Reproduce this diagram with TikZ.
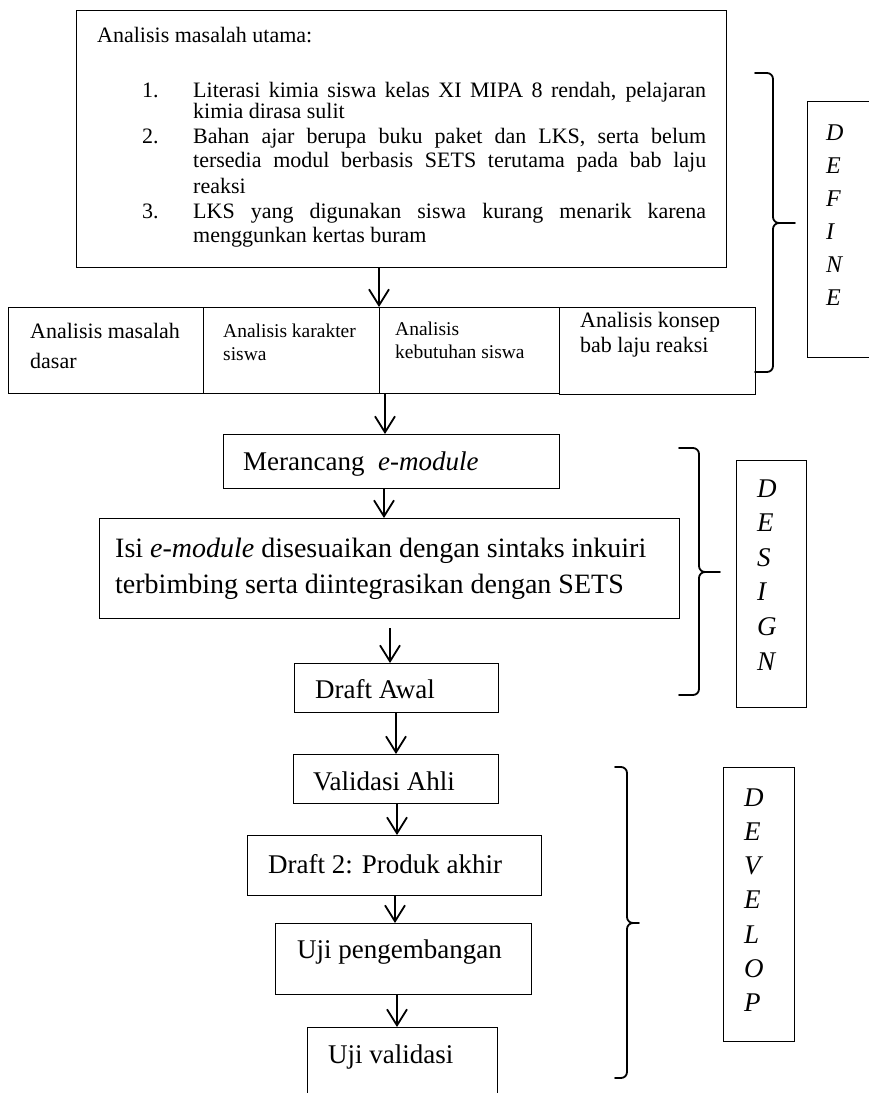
\documentclass[tikz,border=0pt]{standalone}
\usepackage{fontspec}
\setmainfont{Liberation Serif}
\usetikzlibrary{arrows.meta,calc}

% curly brace that groups one phase: left hook x, spine x, tip x, top y, tip y, bottom y
\newcommand\phasebrace[6]{%
  \draw[brace] (#1,#4) -- ({#2-6},#4) to[out=0,in=90] (#2,{#4+6}) -- (#2,{#5-6})
    to[out=-90,in=180] ({#2+6},#5) -- (#3,#5)
    ({#2+6},#5) to[out=180,in=90] (#2,{#5+6}) -- (#2,{#6-6})
    to[out=-90,in=0] ({#2-6},#6) -- (#1,#6);}

\begin{document}
\begin{tikzpicture}[x=1pt,y=-1pt,
  box/.style={draw, line width=1.1pt, rectangle, inner sep=0pt, anchor=north west},
  arr/.style={line width=1.8pt, -{Straight Barb[length=16pt,width=20pt]}},
  brace/.style={line width=1.8pt, line join=round, line cap=round},
  txt/.style={anchor=base west, inner sep=0pt},
  ftop/.style={font=\fontsize{22}{26}\selectfont},
  fbig/.style={font=\fontsize{22}{26}\selectfont},
  fsmall/.style={font=\fontsize{19.5}{23}\selectfont},
  fflow/.style={font=\fontsize{27}{32}\selectfont},
  fphase/.style={font=\itshape\fontsize{#1}{#1}\selectfont}]
\clip (0,0) rectangle (869,1093);
\fill[white] (0,0) rectangle (869,1093);

% ---------- DEFINE ----------
\node[box, minimum width=650, minimum height=257] (top) at (76,10) {};
\node[txt, ftop] (ttl) at (97,42) {Analisis masalah utama:};
\node[txt, ftop] (n1) at (142,97) {1.};
\node[txt, ftop] (l1) at (193,97) {\makebox[513pt][s]{Literasi kimia siswa kelas XI MIPA 8 rendah, pelajaran}};
\node[txt, ftop] (l2) at (193,118) {kimia dirasa sulit};
\node[txt, ftop] (n2) at (142,143) {2.};
\node[txt, ftop] (l3) at (193,143) {\makebox[513pt][s]{Bahan ajar berupa buku paket dan LKS, serta belum}};
\node[txt, ftop] (l4) at (193,167) {\makebox[513pt][s]{tersedia modul berbasis SETS terutama pada bab laju}};
\node[txt, ftop] (l5) at (193,193) {reaksi};
\node[txt, ftop] (n3) at (142,218) {3.};
\node[txt, ftop] (l6) at (193,218) {\makebox[513pt][s]{LKS yang digunakan siswa kurang menarik karena}};
\node[txt, ftop] (l7) at (193,242) {menggunkan kertas buram};

\node[box, minimum width=195, minimum height=86] (b1) at (8,307) {};
\node[box, minimum width=176, minimum height=86] (b2) at (203,307) {};
\node[box, minimum width=180, minimum height=86] (b3) at (379,307) {};
\node[box, minimum width=196, minimum height=87] (b4) at (559,307) {};
\node[txt, fbig] (b1a) at (30,338) {Analisis masalah};
\node[txt, fbig] (b1b) at (30,368) {dasar};
\node[txt, fsmall] (b2a) at (223,337) {Analisis karakter};
\node[txt, fsmall] (b2b) at (223,360) {siswa};
\node[txt, fsmall] (b3a) at (395,335) {Analisis};
\node[txt, fsmall] (b3b) at (395,358) {kebutuhan siswa};
\node[txt, fbig] (b4a) at (580,327) {Analisis konsep};
\node[txt, fbig] (b4b) at (580,352) {bab laju reaksi};

\phasebrace{755}{773}{795}{73}{223}{372}
\node[box, minimum width=80, minimum height=256] (defbox) at (807,101) {};
\foreach \l [count=\i] in {D,E,F,I,N,E}
  \node[txt, fphase=24] (def\i) at (826,{140+33*(\i-1)}) {\l};

% ---------- DESIGN ----------
\node[box, minimum width=336, minimum height=54] (mer) at (223,434) {};
\node[txt, fflow] (mert) at (243,470) {Merancang\ \ \textit{e-module}};
\node[box, minimum width=580, minimum height=100] (isi) at (99,518) {};
\node[txt, font=\fontsize{28}{32}\selectfont] (isia) at (115,557) {Isi \textit{e-module} disesuaikan dengan sintaks inkuiri};
\node[txt, font=\fontsize{28}{32}\selectfont] (isib) at (115,593) {terbimbing serta diintegrasikan dengan SETS};
\node[box, minimum width=204, minimum height=49] (dra) at (294,663) {};
\node[txt, fflow] (drat) at (315,698) {Draft Awal};

\phasebrace{679}{699}{720}{448}{572}{695}
\node[box, minimum width=70, minimum height=247] (desbox) at (736,460) {};
\foreach \l [count=\i] in {D,E,S,I,G,N}
  \node[txt, fphase=27] (des\i) at (757,{497+34.6*(\i-1)}) {\l};

% ---------- DEVELOP ----------
\node[box, minimum width=205, minimum height=49] (val) at (293,754) {};
\node[txt, fflow] (valt) at (313,790) {Validasi Ahli};
\node[box, minimum width=294, minimum height=60] (dr2) at (247,835) {};
\node[txt, fflow] (dr2t) at (268,873) {Draft 2: Produk akhir};
\node[box, minimum width=256, minimum height=71] (ujp) at (275,923) {};
\node[txt, fflow] (ujpt) at (297,958) {Uji pengembangan};
\node[box, minimum width=190, minimum height=90] (ujv) at (307,1027) {};
\node[txt, fflow] (ujvt) at (328,1063) {Uji validasi};

\phasebrace{615}{627}{639}{767}{923}{1078}
\node[box, minimum width=71, minimum height=274] (devbox) at (723,767) {};
\foreach \l [count=\i] in {D,E,V,E,L,O,P}
  \node[txt, fphase=27] (dev\i) at (744,{806+34.3*(\i-1)}) {\l};

% ---------- flow arrows ----------
\coordinate (ax2) at (385,0);
\coordinate (ax3) at (384,0);
\coordinate (ax4) at (390,0);
\coordinate (ax5) at (396,0);
\coordinate (ax6) at (397,0);
\coordinate (ax7) at (395,0);
\draw[arr] (top.south -| b3.north west) -- (b3.north west);
\draw[arr] (b3.south -| ax2) -- (mer.north -| ax2);
\draw[arr] (mer.south -| ax3) -- (isi.north -| ax3);
\draw[arr] ($(isi.south -| ax4)+(0,9)$) -- (dra.north -| ax4);
\draw[arr] (dra.south -| ax5) -- (val.north -| ax5);
\draw[arr] (val.south -| ax6) -- (dr2.north -| ax6);
\draw[arr] (dr2.south -| ax7) -- (ujp.north -| ax7);
\draw[arr] (ujp.south -| ax6) -- (ujv.north -| ax6);
\end{tikzpicture}
\end{document}
